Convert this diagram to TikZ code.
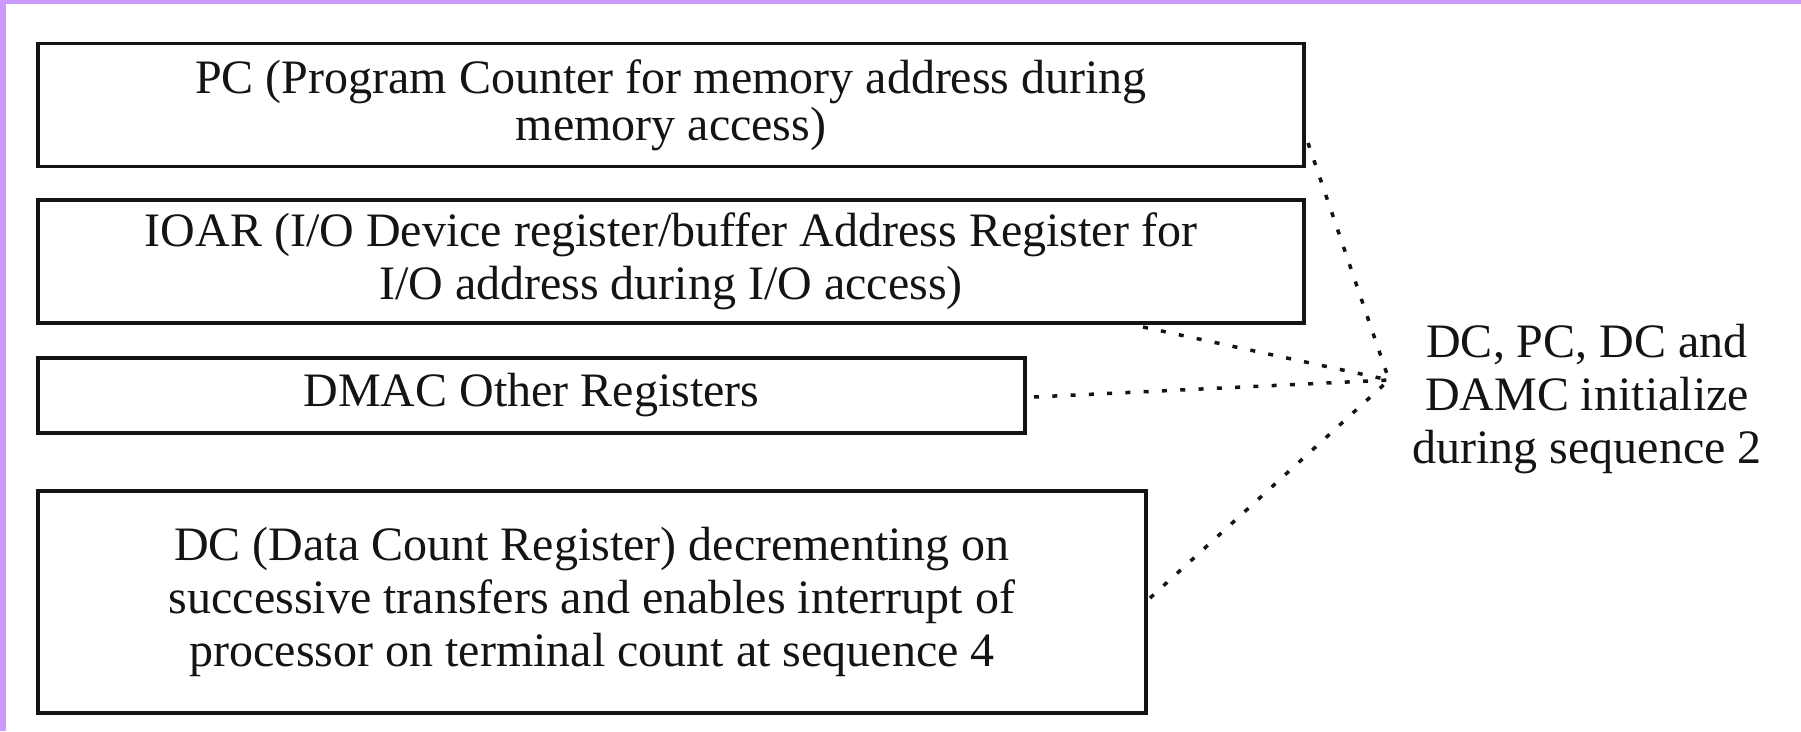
\documentclass[tikz,border=0pt]{standalone}
\usepackage{fontspec}
\setmainfont{Liberation Serif}
\definecolor{lav}{RGB}{204,153,255}
\definecolor{ink}{RGB}{20,20,20}
\tikzset{
  regbox/.style={draw=ink, line width=3.5pt, inner sep=0pt, outer sep=0pt, align=center,
    text=ink, font=\fontsize{48}{53}\selectfont},
  dotline/.style={draw=ink, line width=3.5pt, dash pattern=on 5pt off 13.3pt},
  lbl/.style={align=center, text=ink, inner sep=0pt, font=\fontsize{48}{53}\selectfont}
}
\begin{document}
\begin{tikzpicture}[x=1pt,y=-1pt]
\useasboundingbox (0,0) rectangle (1801,731);
\fill[white] (0,0) rectangle (1801,731);
\fill[lav] (0,0) rectangle (1801,4);
\fill[lav] (0,0) rectangle (6,731);

\node[regbox, minimum width=1266pt, minimum height=123pt, font=\fontsize{48}{47}\selectfont] (pc) at (671,105)
  {PC (Program Counter for memory address during\\memory access)};
\node[regbox, minimum width=1266pt, minimum height=123pt] (io) at (671,261.5)
  {IOAR (I/O Device register/buffer Address Register for\\I/O address during I/O access)};
\node[regbox, minimum width=987pt, minimum height=75pt] (dm) at (531.5,395.5)
  {DMAC Other Registers};
\node[regbox, minimum width=1108pt, minimum height=222pt] (dc) at (592,602)
  {DC (Data Count Register) decrementing on\\successive transfers and enables interrupt of\\processor on terminal count at sequence 4};

\node[lbl] (init) at (1587,399) {DC, PC, DC and\\DAMC initialize\\during sequence 2};

\coordinate (hub) at (1389,380);
\draw[dotline] ([xshift=4pt,yshift=-38pt]pc.east) -- (hub);
\draw[dotline] ([xshift=-161pt,yshift=-4pt]io.south east) -- (hub);
\draw[dotline] ([xshift=9pt,yshift=-1.5pt]dm.east) -- (hub);
\draw[dotline] ([xshift=4pt,yshift=4pt]dc.east) -- (hub);
\end{tikzpicture}
\end{document}
